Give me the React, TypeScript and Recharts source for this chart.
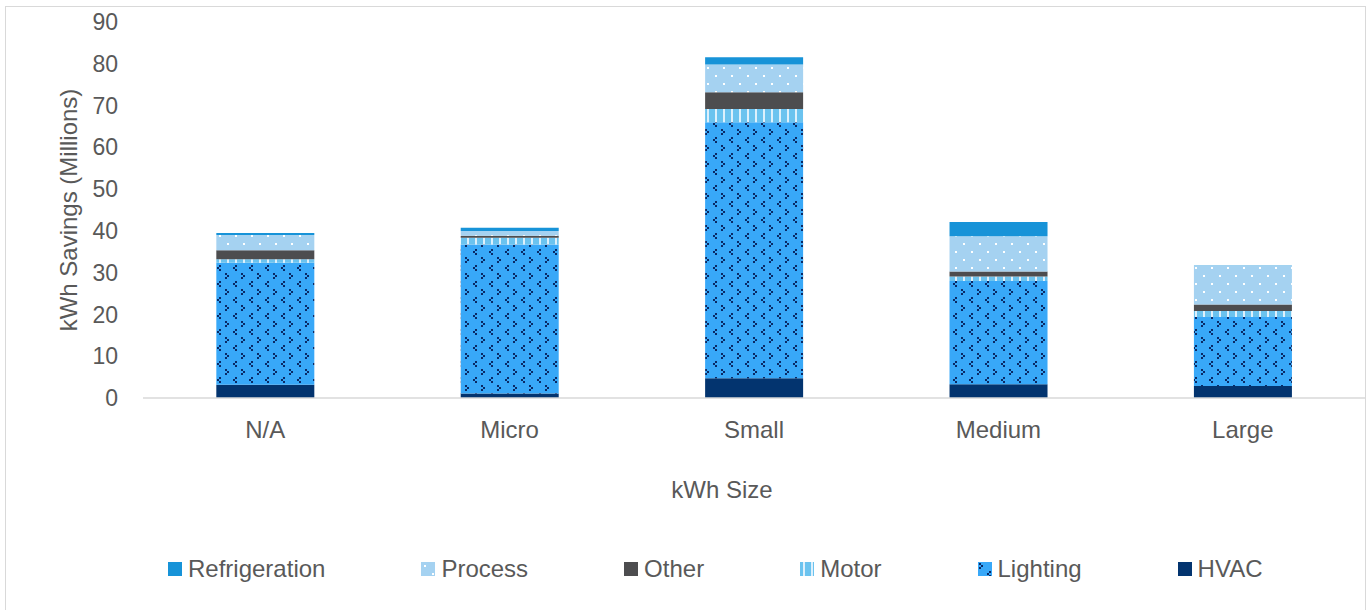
import React from 'react';
import { BarChart, Bar, XAxis, YAxis, Legend } from 'recharts';

const categories = ['N/A', 'Micro', 'Small', 'Medium', 'Large'];
const hvac = [3.2, 1.05, 4.7, 3.3, 2.9];
const lighting = [29.2, 35.7, 61.3, 24.7, 16.5];
const motor = [0.8, 1.6, 3.2, 1.1, 1.4];
const other = [2.15, 0.5, 4.0, 1.2, 1.6];
const processVals = [3.66, 1.1, 6.6, 8.4, 9.3];
const refrigeration = [0.5, 0.8, 1.75, 3.4, 0.1];
const yTicks = [0, 10, 20, 30, 40, 50, 60, 70, 80, 90];

const FONT = '"Liberation Sans", Arial, sans-serif';
const TEXT = '#595959';

// bottom-to-top stack order; legend shows it reversed
const series = [
  { key: 'hvac', name: 'HVAC', fill: '#03346F' },
  { key: 'lighting', name: 'Lighting', fill: 'url(#patLighting)' },
  { key: 'motor', name: 'Motor', fill: 'url(#patMotor)' },
  { key: 'other', name: 'Other', fill: '#4D4D4F' },
  { key: 'process', name: 'Process', fill: 'url(#patProcess)' },
  { key: 'refrigeration', name: 'Refrigeration', fill: '#1793D8' },
];

const data = categories.map((c, i) => ({
  size: c,
  hvac: hvac[i],
  lighting: lighting[i],
  motor: motor[i],
  other: other[i],
  process: processVals[i],
  refrigeration: refrigeration[i],
}));

const Patterns = () => (
  <svg width={0} height={0} style={{ position: 'absolute' }}>
    <defs>
      <pattern id="patLighting" width={16} height={16} patternUnits="userSpaceOnUse">
        <rect width={16} height={16} fill="#38A8F8" />
        <rect x={1} y={1} width={2} height={2} fill="#0A2A66" />
        <rect x={3} y={3} width={2} height={2} fill="#0A2A66" />
        <rect x={1} y={5} width={2} height={2} fill="#0A2A66" />
        <rect x={11} y={9} width={2} height={2} fill="#0A2A66" />
        <rect x={9} y={11} width={2} height={2} fill="#0A2A66" />
        <rect x={11} y={13} width={2} height={2} fill="#0A2A66" />
      </pattern>
      <pattern id="patProcess" width={16} height={16} patternUnits="userSpaceOnUse">
        <rect width={16} height={16} fill="#A5D2F1" />
        <rect x={3} y={3} width={2} height={2} fill="#FFFFFF" />
        <rect x={11} y={11} width={2} height={2} fill="#FFFFFF" />
      </pattern>
      <pattern id="patMotor" width={8} height={8} patternUnits="userSpaceOnUse">
        <rect width={8} height={8} fill="#6BC3EF" />
        <rect x={3} y={0} width={2} height={8} fill="#DDF0FC" />
      </pattern>
    </defs>
  </svg>
);

const LegendContent = () => (
  <div style={{ display: 'flex', alignItems: 'center', paddingLeft: 168, fontFamily: FONT, fontSize: 24, color: TEXT }}>
    {[...series].reverse().map((s) => (
      <div key={s.key} style={{ display: 'flex', alignItems: 'center', marginRight: 96 }}>
        <svg width={14} height={14} style={{ marginRight: 6 }}>
          <rect width={14} height={14} fill={s.fill} />
        </svg>
        <span>{s.name}</span>
      </div>
    ))}
  </div>
);

const YLabel = ({ viewBox }: any) => {
  const cx = viewBox.x + 68;
  const cy = viewBox.y + viewBox.height / 2;
  return (
    <text x={cx} y={cy} transform={`rotate(-90, ${cx}, ${cy})`} textAnchor="middle" dominantBaseline="central"
      fill={TEXT} fontSize={24} fontFamily={FONT}>
      kWh Savings (Millions)
    </text>
  );
};

const XLabel = ({ viewBox }: any) => (
  <text x={viewBox.x + viewBox.width / 2 - 32} y={viewBox.y + 91} textAnchor="middle" dominantBaseline="central"
    fill={TEXT} fontSize={24} fontFamily={FONT}>
    kWh Size
  </text>
);

export default function App() {
  return (
    <div style={{ position: 'absolute', left: 0, top: 0, width: 1368, height: 610, overflow: 'hidden', background: '#fff' }}>
      <Patterns />
      <div style={{ position: 'absolute', left: 5, top: 6, width: 1359, height: 640, border: '1px solid #D9D9D9' }} />
      <div style={{ position: 'absolute', left: 0, top: 0 }}>
        <BarChart width={1368} height={610} data={data} margin={{ top: 22, right: 3, left: 0, bottom: 112 }}
          barCategoryGap="30%">
          <XAxis
            dataKey="size"
            height={100}
            tickLine={false}
            tickSize={0}
            tickMargin={23}
            axisLine={{ stroke: '#D9D9D9', strokeWidth: 1.5 }}
            tick={{ fill: TEXT, fontSize: 24, fontFamily: FONT }}
            label={<XLabel />}
          />
          <YAxis
            width={143}
            domain={[0, 90]}
            ticks={yTicks}
            interval={0}
            axisLine={false}
            tickLine={false}
            tickSize={0}
            tickMargin={25}
            tick={{ fill: TEXT, fontSize: 23, fontFamily: FONT }}
            label={<YLabel />}
          />
          <Legend
            layout="horizontal"
            verticalAlign="middle"
            align="center"
            content={<LegendContent />}
            wrapperStyle={{ position: 'absolute', top: 555, left: 0, width: 1368, height: 30 }}
          />
          {series.map((s) => (
            <Bar key={s.key} dataKey={s.key} name={s.name} stackId="a" fill={s.fill} isAnimationActive={false} />
          ))}
        </BarChart>
      </div>
    </div>
  );
}
